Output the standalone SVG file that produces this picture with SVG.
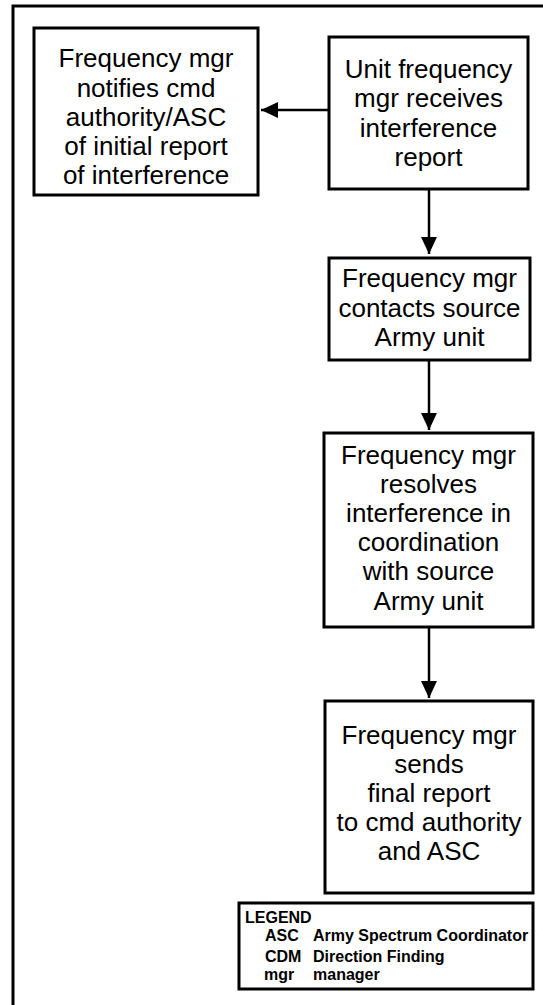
<svg xmlns="http://www.w3.org/2000/svg" width="543" height="1005" viewBox="0 0 543 1005">
<defs>
<style>
.box{fill:#fff;stroke:#000;stroke-width:3}
.t{font-family:"Liberation Sans",Arial,sans-serif;font-size:26px;fill:#000;text-anchor:middle}
.lg{font-family:"Liberation Sans",Arial,sans-serif;font-size:16px;font-weight:bold;fill:#000}
.c{stroke:#000;stroke-width:2.5;fill:none;marker-end:url(#ah)}
</style>
<marker id="ah" markerUnits="userSpaceOnUse" markerWidth="17" markerHeight="16" refX="17" refY="8" orient="auto">
<path d="M0,0 L17,8 L0,16 z" fill="#000"/>
</marker>
</defs>
<rect x="0" y="0" width="543" height="1005" fill="#fff"/>
<rect id="frame" x="13" y="6" width="545" height="1020" fill="none" stroke="#000" stroke-width="3"/>
<g id="connectors">
<line class="c" x1="329" y1="110" x2="261" y2="110"/>
<line class="c" x1="429" y1="189" x2="429" y2="254"/>
<line class="c" x1="429" y1="360" x2="429" y2="430"/>
<line class="c" x1="429" y1="627" x2="429" y2="698"/>
</g>
<g id="nodeA">
<rect class="box" x="34" y="28" width="224" height="167"/>
<text class="t" x="146" y="67">Frequency mgr</text>
<text class="t" x="146" y="97">notifies cmd</text>
<text class="t" x="146" y="126">authority/ASC</text>
<text class="t" x="146" y="155">of initial report</text>
<text class="t" x="146" y="184">of interference</text>
</g>
<g id="nodeB">
<rect class="box" x="329" y="37" width="199" height="152"/>
<text class="t" x="428.5" y="78">Unit frequency</text>
<text class="t" x="428.5" y="107">mgr receives</text>
<text class="t" x="428.5" y="137">interference</text>
<text class="t" x="428.5" y="166">report</text>
</g>
<g id="nodeC">
<rect class="box" x="329" y="258" width="201" height="102"/>
<text class="t" x="429.5" y="287">Frequency mgr</text>
<text class="t" x="429.5" y="317">contacts source</text>
<text class="t" x="429.5" y="346">Army unit</text>
</g>
<g id="nodeD">
<rect class="box" x="324" y="433" width="209" height="194"/>
<text class="t" x="428.5" y="464">Frequency mgr</text>
<text class="t" x="428.5" y="493">resolves</text>
<text class="t" x="428.5" y="522">interference in</text>
<text class="t" x="428.5" y="551">coordination</text>
<text class="t" x="428.5" y="580">with source</text>
<text class="t" x="428.5" y="610">Army unit</text>
</g>
<g id="nodeE">
<rect class="box" x="325" y="701" width="208" height="192"/>
<text class="t" x="429" y="744">Frequency mgr</text>
<text class="t" x="429" y="773">sends</text>
<text class="t" x="429" y="802">final report</text>
<text class="t" x="429" y="831">to cmd authority</text>
<text class="t" x="429" y="860">and ASC</text>
</g>
<g id="legend">
<rect class="box" x="239" y="903" width="294" height="86"/>
<text class="lg" x="245" y="923">LEGEND</text>
<text class="lg" x="265" y="941">ASC</text>
<text class="lg" x="313" y="941">Army Spectrum Coordinator</text>
<text class="lg" x="265" y="962">CDM</text>
<text class="lg" x="313" y="962">Direction Finding</text>
<text class="lg" x="264" y="980">mgr</text>
<text class="lg" x="313" y="980">manager</text>
</g>
</svg>
